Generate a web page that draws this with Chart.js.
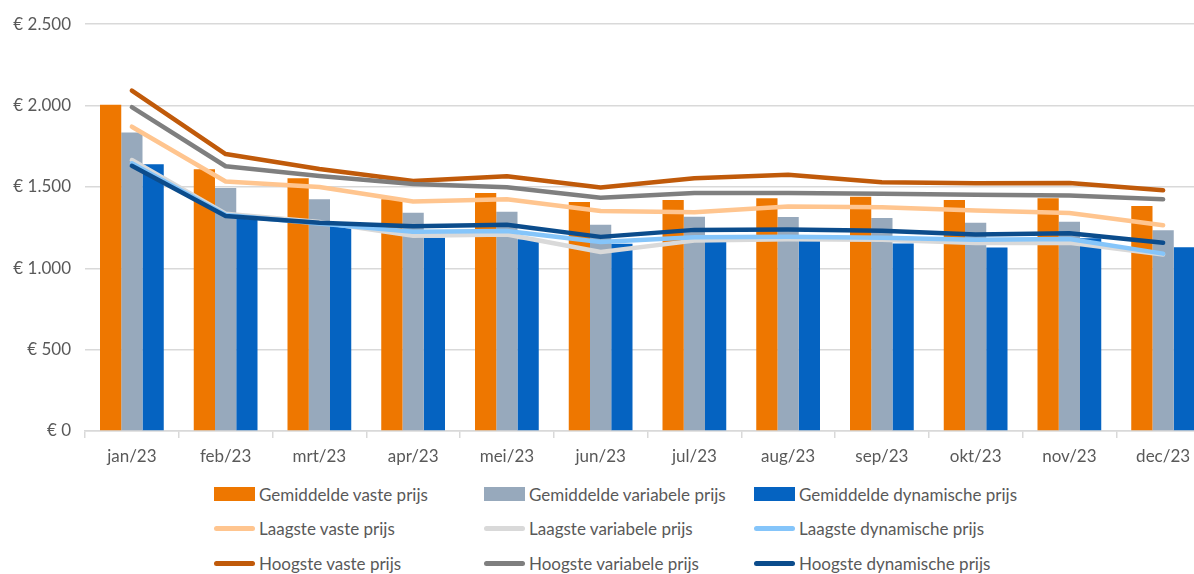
<!DOCTYPE html>
<html>
<head>
<meta charset="utf-8">
<script src="https://cdn.jsdelivr.net/npm/chart.js@4"></script>
<style>
  body { margin: 0; width: 1194px; height: 574px; overflow: hidden; background: #fff; font-family: Lato, "Noto Sans", sans-serif; }
  #wrap { position: absolute; left: 0; top: 0; width: 1215px; height: 475px; }
  #legend { position: absolute; left: 214px; top: 482px; display: grid; grid-template-columns: 270px 270px 270px; row-gap: 10.5px; }
  .item { display: flex; align-items: center; height: 24px; font-size: 17px; color: #595959; white-space: nowrap; }
  .sw { width: 41px; margin-right: 4px; }
</style>
</head>
<body>
<div id="wrap"><canvas id="myChart"></canvas></div>
<div id="legend"></div>
<script>
// DATA (euro per jaar)
const months = ["jan/23", "feb/23", "mrt/23", "apr/23", "mei/23", "jun/23", "jul/23", "aug/23", "sep/23", "okt/23", "nov/23", "dec/23"];

const gemVast = [2005, 1608, 1553, 1424, 1463, 1408, 1420, 1431, 1439, 1420, 1430, 1383];
const gemVariabel = [1835, 1493, 1424, 1342, 1347, 1267, 1316, 1315, 1309, 1280, 1286, 1233];
const gemDynamisch = [1639, 1315, 1258, 1188, 1178, 1150, 1173, 1168, 1152, 1128, 1185, 1129];

const laagsteVast = [1870, 1533, 1500, 1410, 1424, 1352, 1345, 1380, 1375, 1355, 1340, 1264];
const laagsteVariabel = [1665, 1335, 1285, 1200, 1208, 1100, 1170, 1178, 1175, 1155, 1157, 1085];
const laagsteDynamisch = [1645, 1328, 1275, 1225, 1229, 1162, 1190, 1194, 1188, 1175, 1180, 1090];

const hoogsteVast = [2092, 1702, 1610, 1536, 1565, 1496, 1553, 1575, 1528, 1523, 1524, 1479];
const hoogsteVariabel = [1990, 1627, 1567, 1518, 1498, 1434, 1462, 1463, 1458, 1452, 1448, 1424];
const hoogsteDynamisch = [1630, 1321, 1280, 1258, 1268, 1193, 1236, 1239, 1230, 1208, 1215, 1157];

const yTicks = [0, 500, 1000, 1500, 2000, 2500];

function barSet(label, data, color) {
  return { type: "bar", label: label, data: data, backgroundColor: color, order: 10, barPercentage: 1, categoryPercentage: 0.68 };
}
function lineSet(label, data, color, order) {
  return {
    type: "line", label: label, data: data, borderColor: color, backgroundColor: color,
    borderWidth: 4.5, pointRadius: 0, tension: 0, order: order,
    borderCapStyle: "round", borderJoinStyle: "round",
  };
}

const datasets = [
  barSet("Gemiddelde vaste prijs", gemVast, "#EE7700"),
  barSet("Gemiddelde variabele prijs", gemVariabel, "#97A9BC"),
  barSet("Gemiddelde dynamische prijs", gemDynamisch, "#0563C1"),
  lineSet("Laagste vaste prijs", laagsteVast, "#FFC58F", 6),
  lineSet("Laagste variabele prijs", laagsteVariabel, "#D9D9D9", 5),
  lineSet("Laagste dynamische prijs", laagsteDynamisch, "#85C5FA", 4),
  lineSet("Hoogste vaste prijs", hoogsteVast, "#C05A0A", 3),
  lineSet("Hoogste variabele prijs", hoogsteVariabel, "#7F7F7F", 2),
  lineSet("Hoogste dynamische prijs", hoogsteDynamisch, "#0B4C8C", 1),
];

function euro(v) {
  return "€ " + v.toLocaleString("nl-NL");
}

const ctx = document.getElementById("myChart");
const myChart = new Chart(ctx, {
  data: { labels: months, datasets: datasets },
  options: {
    responsive: true,
    maintainAspectRatio: false,
    animation: false,
    layout: { padding: { top: 24, right: 5, bottom: 0, left: 0 } },
    plugins: { legend: { display: false }, tooltip: { enabled: false } },
    scales: {
      x: {
        offset: true,
        grid: { offset: true, drawOnChartArea: false, drawTicks: true, tickLength: 7, color: "#D9D9D9", lineWidth: 1.5 },
        border: { color: "#D9D9D9", width: 1.5 },
        ticks: { color: "#595959", font: { family: "Lato", size: 17 }, padding: 8, maxRotation: 0 },
        afterFit: (scale) => { scale.height = 44; },
      },
      y: {
        min: 0,
        max: 2500,
        afterBuildTicks: (scale) => { scale.ticks = yTicks.map((v) => ({ value: v })); },
        grid: { color: "#D9D9D9", lineWidth: 1.5, drawTicks: false },
        border: { display: false },
        ticks: { color: "#595959", font: { family: "Lato", size: 17 }, padding: 14, callback: (v) => euro(v) },
        afterFit: (scale) => { scale.width = 85; },
      },
    },
  },
});

// LEGEND (3 x 3 grid like the original)
const legendEl = document.getElementById("legend");
datasets.forEach((ds) => {
  const item = document.createElement("div");
  item.className = "item";
  const sw = document.createElement("span");
  sw.className = "sw";
  if (ds.type === "bar") {
    sw.style.height = "14px";
    sw.style.background = ds.backgroundColor;
  } else {
    sw.style.height = "5px";
    sw.style.borderRadius = "3px";
    sw.style.background = ds.borderColor;
  }
  item.appendChild(sw);
  item.appendChild(document.createTextNode(ds.label));
  legendEl.appendChild(item);
});
</script>
</body>
</html>
